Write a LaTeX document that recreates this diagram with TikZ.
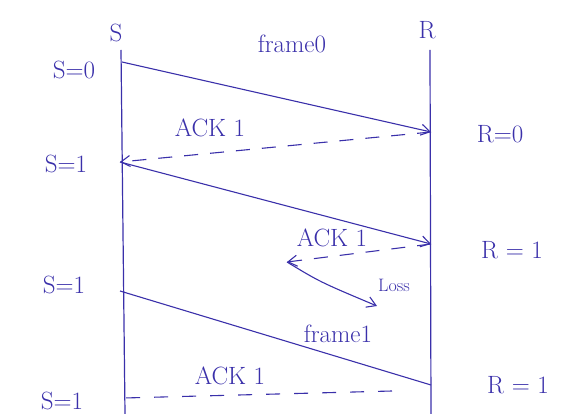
\documentclass[tikz,border=0pt]{standalone}
\usetikzlibrary{arrows.meta}
\definecolor{ink}{RGB}{58,48,170}
\begin{document}
\begin{tikzpicture}[x=1pt,y=-1pt,
  every node/.style={text=ink,font=\fontsize{25}{28}\selectfont,inner sep=1pt},
  lifeline/.style={draw=ink,line width=1.2pt},
  msg/.style={draw=ink,line width=1.1pt,-{Straight Barb[length=9pt,width=11pt]}},
  ackmsg/.style={msg,dashed,dash pattern=on 14pt off 12pt},
  plainack/.style={draw=ink,line width=1.1pt,dashed,dash pattern=on 14pt off 14pt}]
\useasboundingbox (0,0) rectangle (574,414);

% lifelines
\node (S) at (116,33) {S};
\node (R) at (427,30) {R};
\coordinate (stop) at (121,50);
\coordinate (sbot) at (125,414);
\coordinate (rtop) at (430,50);
\coordinate (rbot) at (431,414);
\draw[lifeline] (stop) -- (sbot);
\draw[lifeline] (rtop) -- (rbot);

% event points on the sender line
\coordinate (s0) at (122,62);
\coordinate (s1) at (120,162);
\coordinate (s2) at (120,291);
\coordinate (s3) at (124,398);
% event points on the receiver line
\coordinate (r0) at (431,132);
\coordinate (r1) at (431,244);
\coordinate (r2) at (431,385);
\coordinate (lost) at (287,262);
\coordinate (lossend) at (377,306);
\coordinate (a3) at (392,391);

% state labels
\node (ls0) at (74,70) {S=0};
\node (ls1) at (66,164) {S=1};
\node (ls2) at (64,285) {S=1};
\node (ls3) at (62,401) {S=1};
\node (lr0) at (500,134) {R=0};
\node (lr1) at (512,250) {R = 1};
\node (lr2) at (518,385) {R = 1};

% messages
\draw[msg] (s0) -- (r0);
\node (f0) at (292,44) {frame0};
\draw[ackmsg] (r0) -- (s1);
\node (k0) at (210,128) {ACK 1};
\draw[msg] (s1) -- (r1);
\draw[ackmsg] (r1) -- (lost);
\node (k1) at (332,238) {ACK 1};
\draw[msg] (lost) .. controls (320,282) .. (lossend);
\node[font=\fontsize{18}{20}\selectfont] (loss) at (394,285) {Loss};
\draw[msg,-] (s2) -- (r2);
\node (f1) at (338,334) {frame1};
\draw[plainack] (a3) -- (s3);
\node (k2) at (230,376) {ACK 1};
\end{tikzpicture}
\end{document}
